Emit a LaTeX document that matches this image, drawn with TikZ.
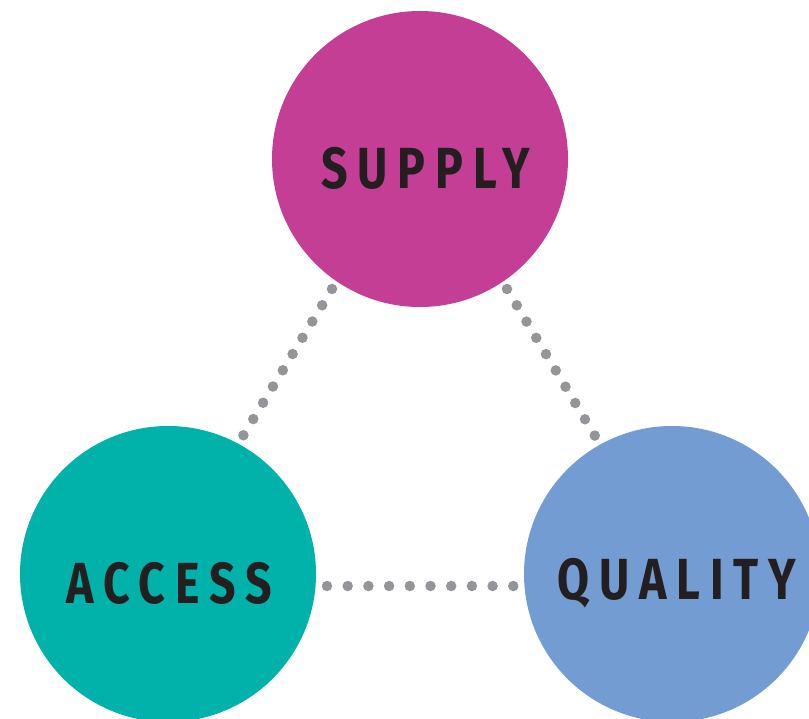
\documentclass[tikz,border=0pt]{standalone}
\usepackage{fontspec}
\setmainfont{Fira Sans}
\newfontfamily\capsfont[FakeStretch=0.8,LetterSpace=17]{Fira Sans}
\usetikzlibrary{positioning}

\definecolor{supplycol}{HTML}{C33E94}
\definecolor{accesscol}{HTML}{00B2AA}
\definecolor{qualitycol}{HTML}{739DD2}
\definecolor{dotcol}{HTML}{939598}
\definecolor{inkcol}{HTML}{231F20}

\begin{document}
\begin{tikzpicture}
[x=1pt,y=-1pt,
disc/.style={shape=circle,minimum size=296pt,inner sep=0pt,outer sep=0pt},
word/.style={text=inkcol,font=\capsfont\bfseries\fontsize{58}{58}\selectfont},
dotline/.style={dotcol,line width=10.5pt,line cap=round},
leftdots/.style={dotline,dash pattern=on 0pt off 19.0pt},
rightdots/.style={dotline,dash pattern=on 0pt off 18.98pt},
flatdots/.style={dotline,dash pattern=on 0pt off 20.7pt}]
\useasboundingbox (0,0) rectangle (809,719);

% the three circles
\node[disc,fill=supplycol] (supply) at (420,159) {};
\node[disc,fill=accesscol] (access) at (168,574) {};
\node[disc,fill=qualitycol] (quality) at (672,574) {};

% dotted links
\draw[leftdots] ([shift={(-88,130)}]supply.center) -- ([shift={(75,-138)}]access.center);
\draw[rightdots] ([shift={(87,130)}]supply.center) -- ([shift={(-77,-138)}]quality.center);
\draw[flatdots] ([shift={(159,12)}]access.center) -- ([shift={(-158,12)}]quality.center);

% labels
\node[word] (supplytxt) at (426,168) {SUPPLY};
\node[word] (accesstxt) at (169,583) {ACCESS};
\node[word] (qualitytxt) at (677,583) {QUALITY};
\end{tikzpicture}
\end{document}
